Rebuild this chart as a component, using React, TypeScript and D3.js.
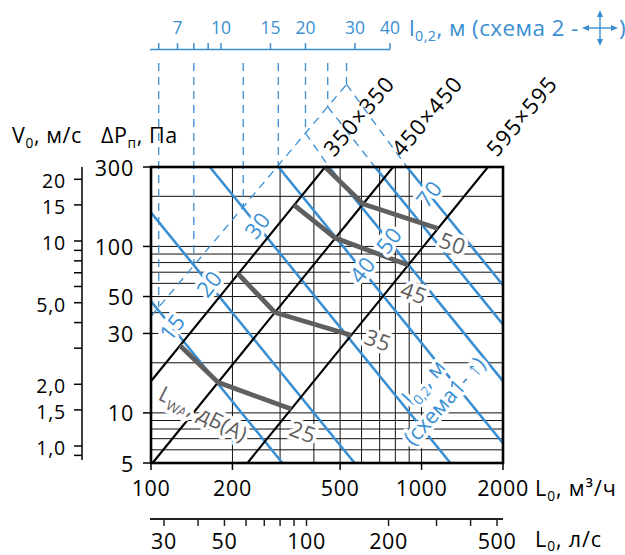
import React, { useRef, useEffect } from "react";
import * as d3 from "d3";

const BLUE = "#3a8fd3";
const GRAY = "#5f5f5f";
const FONT = "'Open Sans', 'Noto Sans', sans-serif";
const FS = 21.5;

// grille sizes, flow (m3/h) where each size line reaches 300 Pa
const sizes = ["350×350", "450×450", "595×595"];
const sizeFlowAt300 = [440, 785, 1760];

// noise LwA, dB(A): flow on each size line
const noiseLevels = [25, 35, 45, 50];
const noiseFlows = [
  [128, 177, 330],
  [210, 287, 550],
  [338, 480, 893],
  [440, 608, 1150],
];

// throw l0,2 for schema 1 (m), flow where each line reaches 300 Pa
const throw1 = [15, 20, 30, 40, 50, 60, 70];
const throwFlowAt300 = [39.5, 73, 165, 296, 455, 673, 883];
const throwLabelFlow = [119, 163, 246, 600, 753, null, 1059];
const throwRatio = 0.4; // schema 2 = 0.4 * schema 1

// dashed transfer line, [flow, pressure] at both ends
const transferA = [100, 38];
const transferB = [525, 930];

const flowTicks = [100, 200, 500, 1000, 2000];
const flowGrid = [100, 200, 300, 400, 500, 600, 700, 800, 900, 1000, 2000];
const pressureTicks = [300, 100, 50, 30, 10, 5];
const pressureGrid = [300, 200, 100, 90, 80, 70, 60, 50, 40, 30, 20, 10, 9, 8, 7, 6, 5];
const lsTicks = [30, 40, 50, 60, 70, 80, 90, 100, 200, 300, 400, 500];
const lsLabels = [30, 50, 100, 200, 500];
const velTicks = [20, 15, 10, 9, 8, 7, 6, 5, 4, 3, 2, 1.5, 1, 0.9];
const velLabels = [20, 15, 10, 5, 2, 1.5, 1];
const throw2Ticks = [6, 7, 8, 9, 10, 15, 20, 30, 40];
const throw2Labels = [7, 10, 15, 20, 30, 40];

function rich(g, parts, attrs, shift = 5) {
  const t = g.append("text");
  Object.entries(attrs).forEach(([k, v]) => t.attr(k, v));
  parts.forEach(([s, sub], i) => {
    const ts = t.append("tspan").text(s);
    if (sub) ts.attr("font-size", "0.64em").attr("dy", shift);
    else if (i > 0 && parts[i - 1][1]) ts.attr("dy", -shift);
  });
  return t;
}

export default function App() {
  const ref = useRef(null);

  useEffect(() => {
    const svg = d3.select(ref.current);
    svg.selectAll("*").remove();
    svg.attr("font-family", FONT);

    const x = d3.scaleLog().domain([100, 2000]).range([151, 503]);
    const y = d3.scaleLog().domain([5, 300]).range([463, 167]);
    const xs = d3.scaleLog().domain([30, 500]).range([164, 497]);
    const v = d3.scaleLog().domain([1, 10]).range([446, 241]);
    const t2 = d3.scaleLog().domain([10, 40]).range([221, 390]);

    const sizeP = (Lr, L) => 300 * (L / Lr) ** 2;
    const throwP = (Lr, L) => 300 * (Lr / L) ** 2;
    const k = Math.log(transferB[1] / transferA[1]) / Math.log(transferB[0] / transferA[0]);
    const transferP = (L) => transferA[1] * (L / transferA[0]) ** k;

    const halo = { stroke: "#fff", "stroke-width": 7, "paint-order": "stroke", "stroke-linejoin": "round" };
    const setAttrs = (sel, o) => { Object.entries(o).forEach(([a, b]) => sel.attr(a, b)); return sel; };

    // grid
    const grid = svg.append("g").attr("stroke", "#111").attr("stroke-width", 1);
    flowGrid.forEach((L) =>
      grid.append("line").attr("x1", x(L)).attr("x2", x(L)).attr("y1", y(5)).attr("y2", y(300))
    );
    pressureGrid.forEach((p) =>
      grid.append("line").attr("x1", x(100)).attr("x2", x(2000)).attr("y1", y(p)).attr("y2", y(p))
    );

    // throw lines schema 1
    const blue = svg.append("g").attr("stroke", BLUE).attr("stroke-width", 2.6);
    throwFlowAt300.forEach((Lr) => {
      const La = Math.max(100, Lr);
      const Lb = Math.min(2000, Lr * Math.sqrt(300 / 5));
      blue.append("line")
        .attr("x1", x(La)).attr("y1", y(throwP(Lr, La)))
        .attr("x2", x(Lb)).attr("y2", y(throwP(Lr, Lb)));
    });

    // schema 2 transfer: dashed lines
    const dash = svg.append("g").attr("stroke", BLUE).attr("stroke-width", 1.3)
      .attr("stroke-dasharray", "8,6").attr("fill", "none");
    const junctions = throw1.map((l1, i) => {
      const xj = t2(l1 * throwRatio);
      const Lj = x.invert(xj);
      const pj = transferP(Lj);
      return { xj, yj: y(pj), pj, Lr: throwFlowAt300[i] };
    });
    junctions.forEach((j) => {
      dash.append("line").attr("x1", j.xj).attr("x2", j.xj).attr("y1", 63).attr("y2", j.yj);
      if (j.pj > 300) {
        dash.append("line").attr("x1", j.xj).attr("y1", j.yj)
          .attr("x2", x(j.Lr)).attr("y2", y(300));
      }
    });
    const last = junctions[junctions.length - 1];
    dash.append("line")
      .attr("x1", x(100)).attr("y1", y(transferP(100)))
      .attr("x2", last.xj).attr("y2", last.yj);

    // grille size lines
    const black = svg.append("g").attr("stroke", "#000").attr("stroke-width", 2.1);
    sizeFlowAt300.forEach((Lr, i) => {
      const La = Math.max(100, Lr * Math.sqrt(5 / 300));
      black.append("line")
        .attr("x1", x(La)).attr("y1", y(sizeP(Lr, La)))
        .attr("x2", x(Lr)).attr("y2", y(300));
      svg.append("text")
        .attr("transform", `translate(${x(Lr) + 9},${y(300) - 9}) rotate(-50)`)
        .attr("font-size", 22).attr("letter-spacing", 1.2).text(sizes[i]);
    });

    // noise lines
    const line = d3.line().x((d) => d[0]).y((d) => d[1]);
    noiseFlows.forEach((row) => {
      const pts = row.map((L, i) => [x(L), y(sizeP(sizeFlowAt300[i], L))]);
      svg.append("path").attr("d", line(pts)).attr("fill", "none")
        .attr("stroke", GRAY).attr("stroke-width", 4.8);
    });

    // plot frame
    svg.append("rect").attr("x", x(100)).attr("y", y(300))
      .attr("width", x(2000) - x(100)).attr("height", y(5) - y(300))
      .attr("fill", "none").attr("stroke", "#000").attr("stroke-width", 2.6);

    // throw labels
    throw1.forEach((l1, i) => {
      const Lf = throwLabelFlow[i];
      if (!Lf) return;
      const t = svg.append("text")
        .attr("transform", `translate(${x(Lf)},${y(throwP(throwFlowAt300[i], Lf))}) rotate(-52)`)
        .attr("text-anchor", "middle").attr("dominant-baseline", "central")
        .attr("font-size", 22).attr("letter-spacing", 0.6).attr("fill", BLUE).text(l1);
      setAttrs(t, halo);
    });

    // noise labels
    const noiseOffset = [[12, 22], [27, 4], [6, 27], [15, 14]];
    noiseFlows.forEach((row, i) => {
      const px = x(row[2]) + noiseOffset[i][0];
      const py = y(sizeP(sizeFlowAt300[2], row[2])) + noiseOffset[i][1];
      const t = svg.append("text")
        .attr("transform", `translate(${px},${py}) rotate(20)`)
        .attr("text-anchor", "middle").attr("dominant-baseline", "central")
        .attr("font-size", 22).attr("letter-spacing", 0.6).attr("fill", GRAY).text(noiseLevels[i]);
      setAttrs(t, halo);
    });
    const lwa = svg.append("g").attr("transform", "translate(157,399) rotate(27)");
    setAttrs(rich(lwa, [["L"], ["WA", true], [", дБ(А)"]], { "font-size": 21.5, fill: GRAY }), halo);

    // schema 1 label
    const s1 = svg.append("g").attr("transform", "translate(450,406) rotate(-48)");
    setAttrs(rich(s1, [["l"], ["0,2", true], [", м"]], {
      "font-size": 21.5, fill: BLUE, "text-anchor": "middle", y: -28,
    }), halo);
    setAttrs(s1.append("text").attr("font-size", 21.5).attr("fill", BLUE)
      .attr("text-anchor", "middle").text("(схема1- ↑)"), halo);

    // pressure axis
    const axP = svg.append("g");
    pressureTicks.forEach((p) => {
      axP.append("line").attr("x1", 143).attr("x2", x(100)).attr("y1", y(p)).attr("y2", y(p))
        .attr("stroke", "#000").attr("stroke-width", 1.5);
      axP.append("text").attr("x", 134).attr("y", y(p)).attr("text-anchor", "end")
        .attr("dominant-baseline", "central").attr("font-size", FS).attr("letter-spacing", 0.8)
        .text(p);
    });

    // velocity axis
    const axV = svg.append("g");
    axV.append("line").attr("x1", 82).attr("x2", 82).attr("y1", 167).attr("y2", 460)
      .attr("stroke", "#000").attr("stroke-width", 1.5);
    velTicks.forEach((s) => {
      axV.append("line").attr("x1", 74).attr("x2", 82).attr("y1", v(s)).attr("y2", v(s))
        .attr("stroke", "#000").attr("stroke-width", 1.5);
    });
    velLabels.forEach((s) => {
      axV.append("text").attr("x", 66).attr("y", v(s) + 1.5).attr("text-anchor", "end")
        .attr("dominant-baseline", "central").attr("font-size", 19.5).attr("letter-spacing", 0.8)
        .text(s < 10 ? s.toFixed(1).replace(".", ",") : s);
    });

    // flow axis m3/h
    const axF = svg.append("g");
    flowTicks.forEach((L) => {
      axF.append("line").attr("x1", x(L)).attr("x2", x(L)).attr("y1", y(5)).attr("y2", y(5) + 7)
        .attr("stroke", "#000").attr("stroke-width", 1.5);
      axF.append("text").attr("x", x(L)).attr("y", 496).attr("text-anchor", "middle")
        .attr("font-size", FS).attr("letter-spacing", 0.6).text(L);
    });

    // flow axis l/s
    const axS = svg.append("g");
    axS.append("line").attr("x1", 150).attr("x2", 503).attr("y1", 519).attr("y2", 519)
      .attr("stroke", "#222").attr("stroke-width", 2);
    lsTicks.forEach((q) => {
      axS.append("line").attr("x1", xs(q)).attr("x2", xs(q)).attr("y1", 519).attr("y2", 526)
        .attr("stroke", "#222").attr("stroke-width", 1.5);
    });
    lsLabels.forEach((q) => {
      axS.append("text").attr("x", xs(q)).attr("y", 549).attr("text-anchor", "middle")
        .attr("font-size", FS).attr("letter-spacing", 0.6).text(q);
    });

    // throw axis schema 2
    const axT = svg.append("g").attr("stroke", BLUE).attr("stroke-width", 1.5);
    axT.append("line").attr("x1", 150).attr("x2", t2(40)).attr("y1", 49.5).attr("y2", 49.5);
    throw2Ticks.forEach((l) => {
      axT.append("line").attr("x1", t2(l)).attr("x2", t2(l)).attr("y1", 43).attr("y2", 49.5);
    });
    throw2Labels.forEach((l) => {
      svg.append("text").attr("x", t2(l)).attr("y", 34).attr("text-anchor", "middle")
        .attr("font-size", 17.5).attr("fill", BLUE).text(l);
    });

    // titles
    rich(svg, [["V"], ["0", true], [", м/с"]], { x: 12, y: 143, "font-size": FS, "letter-spacing": 0.6 });
    rich(svg, [["ΔP"], ["п", true], [", Па"]], { x: 101, y: 143, "font-size": FS, "letter-spacing": 0.6 });
    rich(svg, [["L"], ["0", true], [", м³/ч"]], { x: 535, y: 496, "font-size": FS, "letter-spacing": 0.9 });
    rich(svg, [["L"], ["0", true], [", л/с"]], { x: 535, y: 547, "font-size": FS, "letter-spacing": 0.9 }, 4);
    rich(svg, [["l"], ["0,2", true], [", м (схема 2 -"]], {
      x: 409, y: 36, "font-size": 22.5, "letter-spacing": 0.4, fill: BLUE,
    });
    svg.append("text").attr("x", 619).attr("y", 36).attr("font-size", 22.5).attr("fill", BLUE).text(")");

    // cross arrow of schema 2
    const cx = 600, cy = 28, r = 18, h = 5;
    const arrow = svg.append("g").attr("fill", BLUE).attr("stroke", BLUE).attr("stroke-width", 1.4);
    arrow.append("line").attr("x1", cx - r + 3).attr("x2", cx + r - 3).attr("y1", cy).attr("y2", cy);
    arrow.append("line").attr("x1", cx).attr("x2", cx).attr("y1", cy - r + 3).attr("y2", cy + r - 3);
    [[1, 0], [-1, 0], [0, 1], [0, -1]].forEach(([dx, dy]) => {
      const tx = cx + dx * r, ty = cy + dy * r;
      const bx = cx + dx * (r - 7), by = cy + dy * (r - 7);
      arrow.append("path").attr("stroke", "none")
        .attr("d", `M${tx},${ty} L${bx - dy * h * 0.6},${by - dx * h * 0.6} L${bx + dy * h * 0.6},${by + dx * h * 0.6} Z`);
    });
  }, []);

  return (
    <svg
      ref={ref}
      width={625}
      height={555}
      style={{ position: "absolute", left: 0, top: 0, background: "#fff" }}
    />
  );
}
